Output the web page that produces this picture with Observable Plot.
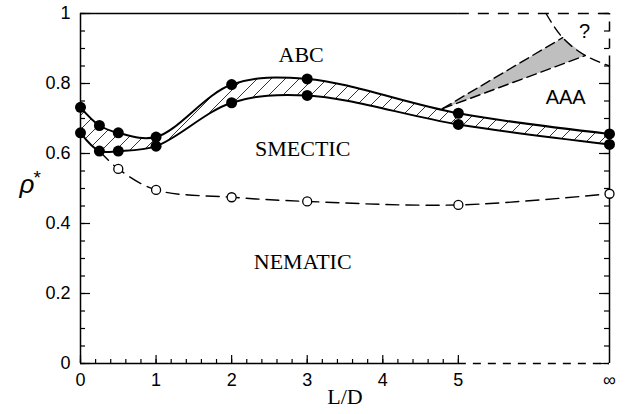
<!DOCTYPE html>
<html><head><meta charset="utf-8">
<script src="https://cdn.jsdelivr.net/npm/d3@7"></script>
<script src="https://cdn.jsdelivr.net/npm/@observablehq/plot@0.6"></script>
<style>body{margin:0;background:#fff;} #chart svg{display:block;}</style>
</head><body><div id="chart"></div>
<script>
// ---- data (L/D, reduced density rho*) ----
const ldBoundary = [0, 0.25, 0.5, 1, 2, 3, 5, 7];          // 7 stands for infinity
const rhoUpper   = [0.732, 0.680, 0.659, 0.647, 0.797, 0.813, 0.715, 0.656];
const rhoLower   = [0.659, 0.607, 0.607, 0.621, 0.745, 0.766, 0.683, 0.626];
const ldNematic  = [0.25, 0.5, 1, 2, 3, 5, 7];
const rhoNematic = [0.607, 0.556, 0.496, 0.475, 0.463, 0.453, 0.485];
const ldWedge    = [4.79, 6.38, 6.68];
const rhoWedge   = [0.728, 0.931, 0.880];
const ldArc      = [6.16, 6.38, 6.68, 7];
const rhoArc     = [1.0, 0.931, 0.880, 0.850];
const xTickValues = [0, 1, 2, 3, 4, 5, 7];
const xTickLabels = ["0", "1", "2", "3", "4", "5", "∞"];
const yTickValues = [0, 0.2, 0.4, 0.6, 0.8, 1];
const yTickLabels = ["0", "0.2", "0.4", "0.6", "0.8", "1"];
const xMinorTicks = d3.range(0, 26).map(i => i / 5);        // 0..5 step 0.2
const yMinorTicks = d3.range(0, 21).map(i => i / 20);       // 0..1 step 0.05
const phaseNames = ["ABC", "SMECTIC", "NEMATIC", "AAA", "?"];
const phaseLD    = [2.92, 2.94, 2.94, 6.42, 6.67];
const phaseRho   = [0.881, 0.614, 0.291, 0.760, 0.947];
const xBreak = 5;          // frame becomes dashed beyond L/D = 5
const rhoArcEnd = 0.85;    // right frame dashed above this

// ---- derived tables ----
const band = ldBoundary.map((ld, i) => ({ld, hi: rhoUpper[i], lo: rhoLower[i]}));
const filled = band.flatMap(d => [{ld: d.ld, rho: d.hi}, {ld: d.ld, rho: d.lo}]);
const nematic = ldNematic.map((ld, i) => ({ld, rho: rhoNematic[i]}));
const wedge = ldWedge.map((ld, i) => ({ld, rho: rhoWedge[i]}));
const wedgeEdges = [
  {e: 0, ...wedge[0]}, {e: 0, ...wedge[1]},
  {e: 1, ...wedge[0]}, {e: 1, ...wedge[2]}
];
const arc = ldArc.map((ld, i) => ({ld, rho: rhoArc[i]}));
const phases = phaseNames.map((t, i) => ({t, ld: phaseLD[i], rho: phaseRho[i]}));

const W = 626, H = 414, mL = 80, mR = 17, mT = 13, mB = 51;
const plotW = W - mL - mR, plotH = H - mT - mB;
const serif = "Liberation Serif", sans = "Liberation Sans";

const svg = Plot.plot({
  width: W, height: H,
  marginLeft: mL, marginRight: mR, marginTop: mT, marginBottom: mB,
  x: {domain: [0, 7], axis: null},
  y: {domain: [0, 1], axis: null},
  style: {background: "white", color: "black"},
  marks: [
    // hatched smectic-ABC band
    Plot.areaY(band, {x: "ld", y1: "lo", y2: "hi", curve: "catmull-rom", fill: "url(#hatch)"}),
    // stippled wedge
    Plot.line(wedge, {x: "ld", y: "rho", fill: "url(#dots)", stroke: "none"}),
    Plot.line(wedgeEdges, {x: "ld", y: "rho", z: "e", strokeWidth: 1.4, strokeDasharray: "10,5"}),
    Plot.line(arc, {x: "ld", y: "rho", curve: "natural", strokeWidth: 1.4, strokeDasharray: "10,6"}),
    // boundaries
    Plot.line(band, {x: "ld", y: "hi", curve: "catmull-rom", strokeWidth: 2}),
    Plot.line(band, {x: "ld", y: "lo", curve: "catmull-rom", strokeWidth: 2}),
    Plot.line(nematic, {x: "ld", y: "rho", curve: "catmull-rom", strokeWidth: 1.4, strokeDasharray: "13,7"}),
    // frame
    Plot.ruleX([0], {y1: 0, y2: 1, strokeWidth: 1.5}),
    Plot.ruleY([0, 1], {x1: 0, x2: xBreak, strokeWidth: 1.5}),
    Plot.ruleY([0], {x1: xBreak, x2: 7, strokeWidth: 1.5, strokeDasharray: "8,7"}),
    Plot.ruleY([1], {x1: xBreak, x2: 7, strokeWidth: 1.5, strokeDasharray: "11,9"}),
    Plot.ruleX([7], {y1: 0, y2: rhoArcEnd, strokeWidth: 1.5}),
    Plot.ruleX([7], {y1: rhoArcEnd, y2: 1, strokeWidth: 1.5, strokeDasharray: "10,7"}),
    // inward ticks
    Plot.tickX(xMinorTicks, {x: d => d, insetTop: plotH - 4, strokeWidth: 1.2}),
    Plot.tickX(xTickValues.filter(d => d <= xBreak), {x: d => d, insetTop: plotH - 8, strokeWidth: 1.2}),
    Plot.tickY(yMinorTicks, {y: d => d, insetRight: plotW - 5, strokeWidth: 1.2}),
    Plot.tickY(yTickValues, {y: d => d, insetRight: plotW - 10, strokeWidth: 1.2}),
    Plot.tickY(yMinorTicks, {y: d => d, insetLeft: plotW - 5, strokeWidth: 1.2}),
    Plot.tickY(yTickValues, {y: d => d, insetLeft: plotW - 10, strokeWidth: 1.2}),
    // points
    Plot.dot(filled, {x: "ld", y: "rho", r: 5.5, fill: "black", stroke: "none"}),
    Plot.dot(nematic.slice(1), {x: "ld", y: "rho", r: 4.5, fill: "white", stroke: "black", strokeWidth: 1.3}),
    // tick labels
    Plot.text(xTickValues, {x: d => d, text: (d, i) => xTickLabels[i], frameAnchor: "bottom", dy: 22,
      fontSize: 18, fontFamily: sans}),
    Plot.text(yTickValues, {y: d => d, text: (d, i) => yTickLabels[i], frameAnchor: "left", dx: -10,
      textAnchor: "end", fontSize: 18, fontFamily: sans}),
    // axis titles
    Plot.text(["L/D"], {text: d => d, frameAnchor: "bottom", dy: 40, fontSize: 22, fontFamily: serif}),
    Plot.text(["ρ"], {text: d => d, frameAnchor: "left", dx: -61, dy: -4, fontSize: 26,
      fontStyle: "italic", fontFamily: sans}),
    Plot.text(["*"], {text: d => d, frameAnchor: "left", dx: -47, dy: -11, fontSize: 19, fontFamily: sans}),
    // phase labels
    Plot.text(phases.slice(0, 3), {x: "ld", y: "rho", text: "t", fontSize: 22, fontFamily: serif}),
    Plot.text(phases.slice(3), {x: "ld", y: "rho", text: "t", fontSize: 20, fontFamily: sans})
  ]
});

const ns = "http://www.w3.org/2000/svg";
const defs = document.createElementNS(ns, "defs");
defs.innerHTML = `
<pattern id="hatch" patternUnits="userSpaceOnUse" width="14" height="14">
  <path d="M-2,16 L16,-2 M-2,2 L2,-2 M12,16 L16,12" stroke="black" stroke-width="0.8" fill="none"/>
</pattern>
<pattern id="dots" patternUnits="userSpaceOnUse" width="2" height="2">
  <rect width="1" height="1" fill="#000"/>
</pattern>`;
svg.insertBefore(defs, svg.firstChild);
document.getElementById("chart").appendChild(svg);
</script>
</body></html>
